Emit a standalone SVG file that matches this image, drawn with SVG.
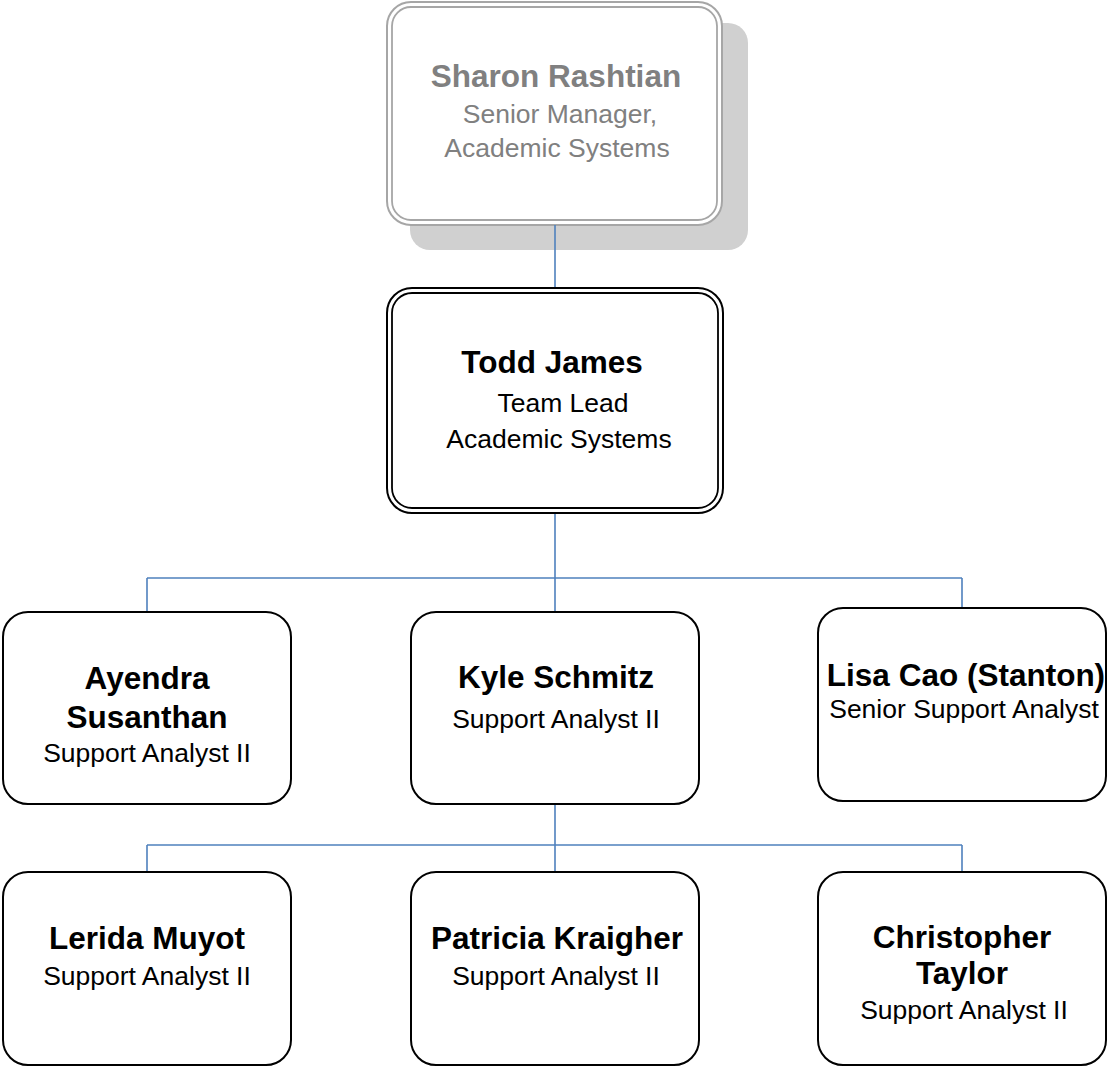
<svg xmlns="http://www.w3.org/2000/svg" width="1107" height="1066" viewBox="0 0 1107 1066">
<style>
.box{fill:#fff;stroke:#000;stroke-width:2}
.dbl{fill:none;stroke:#000;stroke-width:1.8}
.gbox{fill:#fff;stroke:#a6a6a6;stroke-width:2}
.gdbl{fill:none;stroke:#a6a6a6;stroke-width:1.8}
.shadow{fill:#d0d0d0}
.conn{fill:none;stroke:#4f81bd;stroke-width:1.6}
text{font-family:"Liberation Sans",Arial,sans-serif;text-anchor:middle;fill:#000}
.n{font-weight:bold;font-size:31.5px}
.t{font-size:26.5px}
.g{fill:#808080}
</style>
<rect width="1107" height="1066" fill="#fff"/>
<g id="sharon">
<rect class="shadow" x="410" y="23" width="338" height="227" rx="20"/>
<rect class="gbox" x="387" y="2" width="335" height="223" rx="24"/>
<rect class="gdbl" x="392" y="7" width="325" height="213" rx="19"/>
<text class="n g" x="556" y="87">Sharon Rashtian</text>
<text class="t g" x="560" y="123">Senior Manager,</text>
<text class="t g" x="557" y="157">Academic Systems</text>
</g>
<g id="connectors">
<path class="conn" d="M555 225V288"/>
<path class="conn" d="M555 513V612M147 578H962M147 578V612M962 578V608"/>
<path class="conn" d="M555 804V872M147 845H962M147 845V872M962 845V872"/>
</g>
<g id="todd">
<rect class="box" x="387" y="288" width="336" height="225" rx="25"/>
<rect class="dbl" x="392" y="293" width="326" height="215" rx="20"/>
<text class="n" x="552" y="373">Todd James</text>
<text class="t" x="563" y="412">Team Lead</text>
<text class="t" x="559" y="448">Academic Systems</text>
</g>
<g id="ayendra">
<rect class="box" x="3" y="612" width="288" height="192" rx="25"/>
<text class="n" x="147" y="689">Ayendra</text>
<text class="n" x="147" y="728">Susanthan</text>
<text class="t" x="147" y="762">Support Analyst II</text>
</g>
<g id="kyle">
<rect class="box" x="411" y="612" width="288" height="192" rx="25"/>
<text class="n" x="556" y="688">Kyle Schmitz</text>
<text class="t" x="556" y="728">Support Analyst II</text>
</g>
<g id="lisa">
<rect class="box" x="818" y="608" width="288" height="193" rx="25"/>
<text class="n" x="966" y="686">Lisa Cao (Stanton)</text>
<text class="t" x="964" y="718">Senior Support Analyst</text>
</g>
<g id="lerida">
<rect class="box" x="3" y="872" width="288" height="193" rx="25"/>
<text class="n" x="147" y="949">Lerida Muyot</text>
<text class="t" x="147" y="985">Support Analyst II</text>
</g>
<g id="patricia">
<rect class="box" x="411" y="872" width="288" height="193" rx="25"/>
<text class="n" x="557" y="949">Patricia Kraigher</text>
<text class="t" x="556" y="985">Support Analyst II</text>
</g>
<g id="christopher">
<rect class="box" x="818" y="872" width="288" height="193" rx="25"/>
<text class="n" x="962" y="948">Christopher</text>
<text class="n" x="962" y="984">Taylor</text>
<text class="t" x="964" y="1019">Support Analyst II</text>
</g>
</svg>
